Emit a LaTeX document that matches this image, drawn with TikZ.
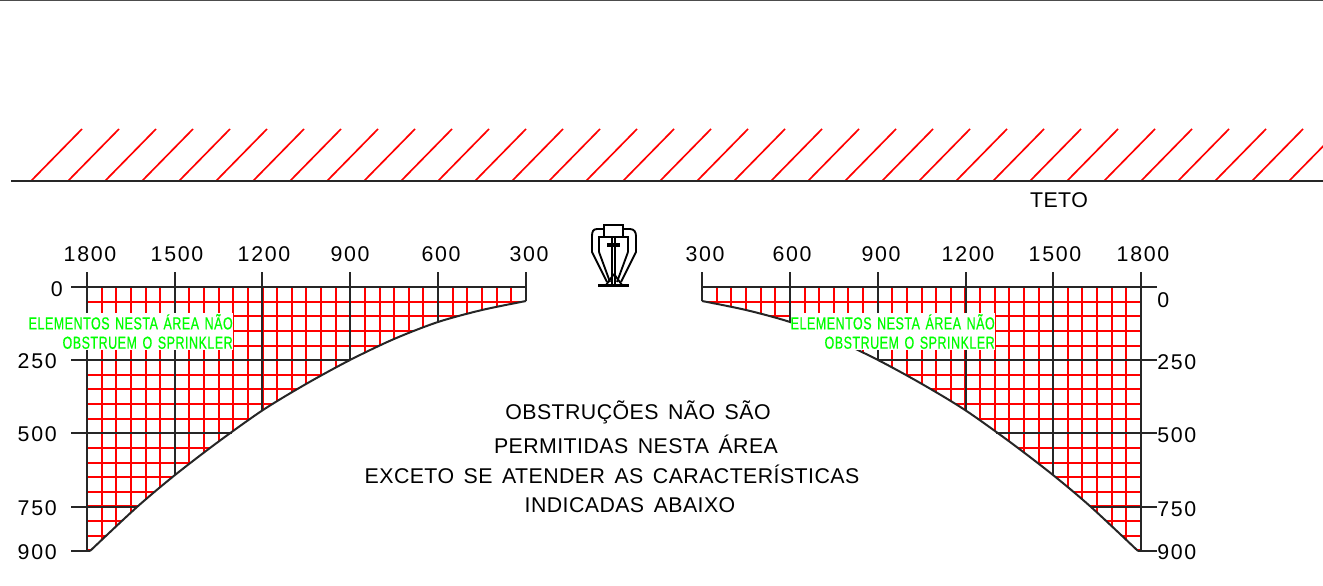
\documentclass[tikz,border=0pt]{standalone}
\usepackage{fontspec}
\setmainfont[LetterSpace=2,WordSpace=1.5]{Liberation Sans}
\newfontfamily\numfont[LetterSpace=8]{Liberation Sans}
\newfontfamily\greenfont[FakeStretch=0.72,LetterSpace=3,WordSpace=1.4,FakeBold=0.6]{Liberation Sans}
\usetikzlibrary{positioning}
\definecolor{hatchred}{RGB}{255,0,0}
\definecolor{notegreen}{RGB}{0,255,0}
\tikzstyle{redline} = [draw=hatchred, line width=1.5pt]
\tikzstyle{hatchline} = [draw=hatchred, line width=1.25pt]
\tikzstyle{blackline} = [draw=black!85, line width=1.5pt]
\tikzstyle{dim} = [font=\numfont\fontsize{16}{17}\selectfont, inner sep=0pt]
\tikzstyle{msg} = [font=\fontsize{16}{17}\selectfont, inner sep=0pt]
\tikzstyle{note} = [fill=white, text=notegreen, align=right, inner xsep=0pt, inner ysep=1pt, font=\greenfont\fontsize{13}{14.5}\selectfont]
\newcommand{\curvepts}{(526,301) (482,310) (438,322) (394,339) (350,360) (306,384) (263,410) (218,442) (175,475) (137,507) (90,551)}
\newcommand{\halfgrid}{%
    \foreach \n in {1,...,30} \draw [redline] ({round(87+14.63*\n)},287) -- ({round(87+14.63*\n)},551);
    \foreach \n in {1,...,18} \draw [redline] (87,{round(287+14.63*\n)}) -- (526,{round(287+14.63*\n)});
    \fill [white] plot [smooth] coordinates {\curvepts} -- (90,553) -- (528,553) -- (528,301) -- cycle;
    \foreach \x/\yend in {87/551,175/475,262/410,350/360,438/322,526/301}
        \draw [blackline] (\x,272) -- (\x,\yend);
    \foreach \y/\xend in {287/526,360/350,433/232,507/137,551/90}
        \draw [blackline] (71,\y) -- (\xend,\y);
    \draw [blackline] plot [smooth] coordinates {\curvepts};
}
\begin{document}
\begin{tikzpicture}[x=0.75pt,y=-0.75pt]
    \useasboundingbox (0,0) rectangle (1323,585);
    \draw [draw=black!70, line width=0.9pt] (0,0.4) -- (1323,0.4);

    % ceiling
    \begin{scope}
        \clip (0,100) rectangle (1323,200);
        \foreach \n in {0,...,34} \draw [hatchline] ({31+37*\n},181) -- ({82+37*\n},129);
    \end{scope}
    \draw [blackline] (11,181) -- (1323,181);
    \node [msg] (Teto) at (1059,200) {TETO};

    % both grids
    \halfgrid
    \begin{scope}[shift={(1228,0)},xscale=-1]
        \halfgrid
    \end{scope}

    % sprinkler
    \begin{scope}[line width=1.4pt]
        \draw (604,237) -- (604,225) -- (623,225) -- (623,237);
        \draw (604,229) -- (597,229) .. controls (593,229) and (592,232) .. (592,236) -- (592,252) -- (607,282);
        \draw (623,229) -- (630,229) .. controls (634,229) and (636,232) .. (636,236) -- (636,252) -- (621,282);
        \draw (599,252) -- (599,237) -- (628,237) -- (628,252);
        \draw (599,252) -- (610,282);
        \draw (628,252) -- (617,282);
        \draw (612,237) -- (612,287);
        \draw (615,237) -- (615,287);
        \draw (614,274) -- (606,285);
        \draw (614,274) -- (622,285);
        \draw [line width=3pt] (607,245) -- (620,245);
        \draw [line width=2.4pt] (598,285.7) -- (629,285.7);
    \end{scope}

    % top labels
    \foreach \x/\t in {90/1800,177/1500,264/1200,350/900,441/600,529/300,705/300,792/600,881/900,968/1200,1055/1500,1143/1800}
        \node [dim] (top\x) at (\x,254) {\t};
    % side labels
    \node [dim, anchor=east] (left0) at (63,289) {0};
    \foreach \y/\t in {361/250,434/500,508/750,552/900}
        \node [dim, anchor=east] (left\t) at (57,\y) {\t};
    \node [dim, anchor=west] (right0) at (1157,300) {0};
    \foreach \y/\t in {362/250,435/500,509/750,552/900}
        \node [dim, anchor=west] (right\t) at (1157,\y) {\t};

    % notes
    \node [note, anchor=east] (noteL) at (233,331.5) {ELEMENTOS NESTA ÁREA NÃO\\OBSTRUEM O SPRINKLER};
    \node [note, anchor=east] (noteR) at (995,331.5) {ELEMENTOS NESTA ÁREA NÃO\\OBSTRUEM O SPRINKLER};

    % centre text
    \node [msg] (msgA) at (638,412) {OBSTRUÇÕES NÃO SÃO};
    \node [msg] (msgB) at (636,444) {PERMITIDAS NESTA ÁREA};
    \node [msg] (msgC) at (612,474) {EXCETO SE ATENDER AS CARACTERÍSTICAS};
    \node [msg] (msgD) at (630,505) {INDICADAS ABAIXO};
\end{tikzpicture}
\end{document}
